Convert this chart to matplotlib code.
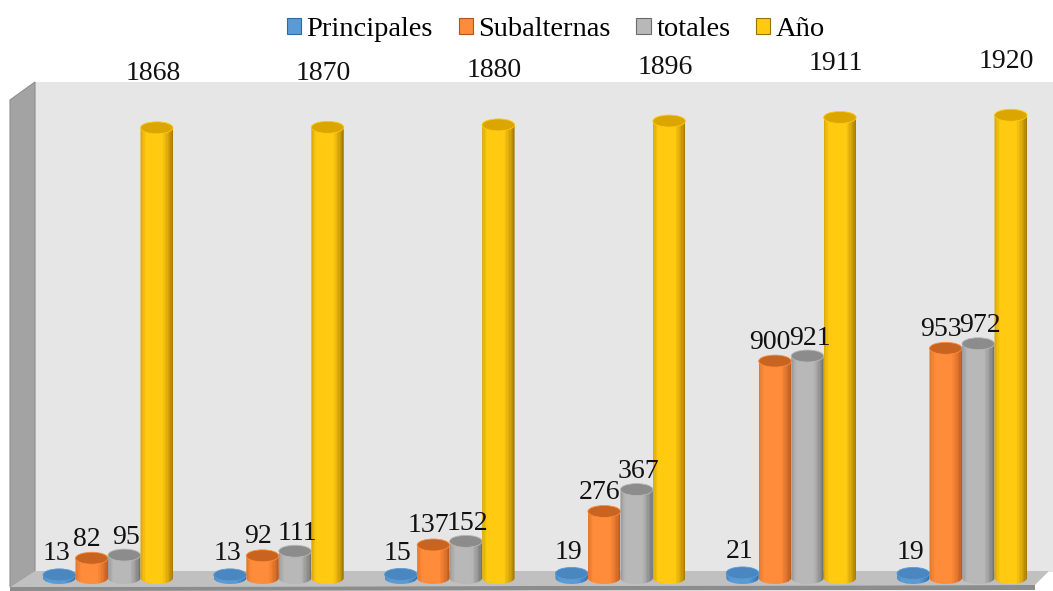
import numpy as np
import matplotlib
matplotlib.use("Agg")
import matplotlib.pyplot as plt
from matplotlib.patches import Polygon, Ellipse, PathPatch, Patch
from matplotlib.path import Path
from matplotlib.colors import LinearSegmentedColormap

# data
years = [1868, 1870, 1880, 1896, 1911, 1920]
principales = [13, 13, 15, 19, 21, 19]
subalternas = [82, 92, 137, 276, 900, 953]
totales = [95, 111, 152, 367, 921, 972]
series_names = ["Principales", "Subalternas", "totales", "Año"]

# (dark edge, light centre, top cap) per series
palette = [
    ("#2F6BA3", "#5B9BD5", "#4A86C0"),
    ("#B4541A", "#FF8C3A", "#C8641F"),
    ("#6A6A6A", "#B8B8B8", "#8C8C8C"),
    ("#9A7000", "#FFCA10", "#DCA600"),
]

plt.rcParams['font.family'] = ['Liberation Serif', 'DejaVu Serif']

W, H = 1053, 591
fig = plt.figure(figsize=(W / 100, H / 100), dpi=100)

# ---- background "3d" box, drawn in pixel coordinates
bg = fig.add_axes([0, 0, 1, 1])
bg.set_xlim(0, W)
bg.set_ylim(H, 0)
bg.axis("off")
bg.add_patch(Polygon([(35, 82), (W, 82), (W, 572), (35, 572)], closed=True,
                     facecolor="#E6E6E6", edgecolor="none"))
bg.add_patch(Polygon([(10, 100), (35, 82), (35, 572), (10, 587)], closed=True,
                     facecolor="#A3A3A3", edgecolor="#8E8E8E", lw=0.8))
bg.add_patch(Polygon([(10, 587), (35, 571), (1049, 571), (1035, 585)], closed=True,
                     facecolor="#C0C0C0", edgecolor="none"))
bg.add_patch(Polygon([(10, 587), (1035, 585), (1035, 590), (10, 591)], closed=True,
                     facecolor="#8C8C8C", edgecolor="none"))

# ---- main axes with the data scale
k = 0.241          # pixels per unit
px_x = 170.8       # pixels per group
ylo, yhi = -40, 2058
bottom_px = 578 + (-ylo) * k
ax = fig.add_axes([0, (H - bottom_px) / H, 1, (yhi - ylo) * k / H])
ax.set_xlim(-108 / px_x, (W - 108) / px_x)
ax.set_ylim(ylo, yhi)
ax.patch.set_alpha(0)
ax.axis("off")

bw = 32.5 / px_x          # bar width in data units
eh = 12 / k               # cap height in data units
nstrip = 24


def cylinder(cx, val, colors, z):
    dark, light, cap = colors
    cmap = LinearSegmentedColormap.from_list("c", [dark, light, light, dark],)
    x0 = cx - bw / 2
    # outline: body plus rounded bottom
    th = np.linspace(np.pi, 2 * np.pi, 30)
    pts = [(cx + bw / 2 * np.cos(t), eh / 2 * np.sin(t)) for t in th]
    pts += [(x0 + bw, val), (x0, val), pts[0]]
    clip = PathPatch(Path(pts), transform=ax.transData, facecolor="none", edgecolor="none")
    ax.add_patch(clip)
    t = (np.arange(nstrip) + 0.5) / nstrip
    prof = np.clip(1 - np.abs(t - 0.42) / 0.58, 0, 1) ** 0.7
    cols = [cmap(0.5 * p) for p in prof]
    xs = x0 + t * bw
    bars = ax.bar(xs, val - ylo, bottom=ylo, width=bw / nstrip * 1.05,
                  color=cols, linewidth=0, zorder=z)
    for b in bars:
        b.set_clip_path(clip)
    ax.add_patch(Ellipse((cx, val), bw, eh, facecolor=cap,
                         edgecolor=light, lw=0.6, zorder=z + 0.1))


all_vals = [principales, subalternas, totales, years]
offsets = [(-3, 21), (-5, 19), (2, 18), (-4, 54)]
for g in range(len(years)):
    for j, vals in enumerate(all_vals):
        cx = g + (j - 1.5) * bw
        cylinder(cx, vals[g], palette[j], 3 + j)
        dx, dy = offsets[j]
        ax.annotate(str(vals[g]), (cx, vals[g]), xytext=(dx, dy),
                    textcoords="offset pixels", ha="center", va="center",
                    fontsize=20, color="#111111", zorder=20)

handles = [Patch(facecolor=c[1], edgecolor=c[0], lw=0.8) for c in palette]
fig.legend(handles, series_names, loc="upper center", bbox_to_anchor=(0.528, 1.015),
           ncol=4, frameon=False, fontsize=20.5, handlelength=0.5, handleheight=0.5,
           handletextpad=0.2, columnspacing=0.9)

fig.savefig("out.png", dpi=100)
